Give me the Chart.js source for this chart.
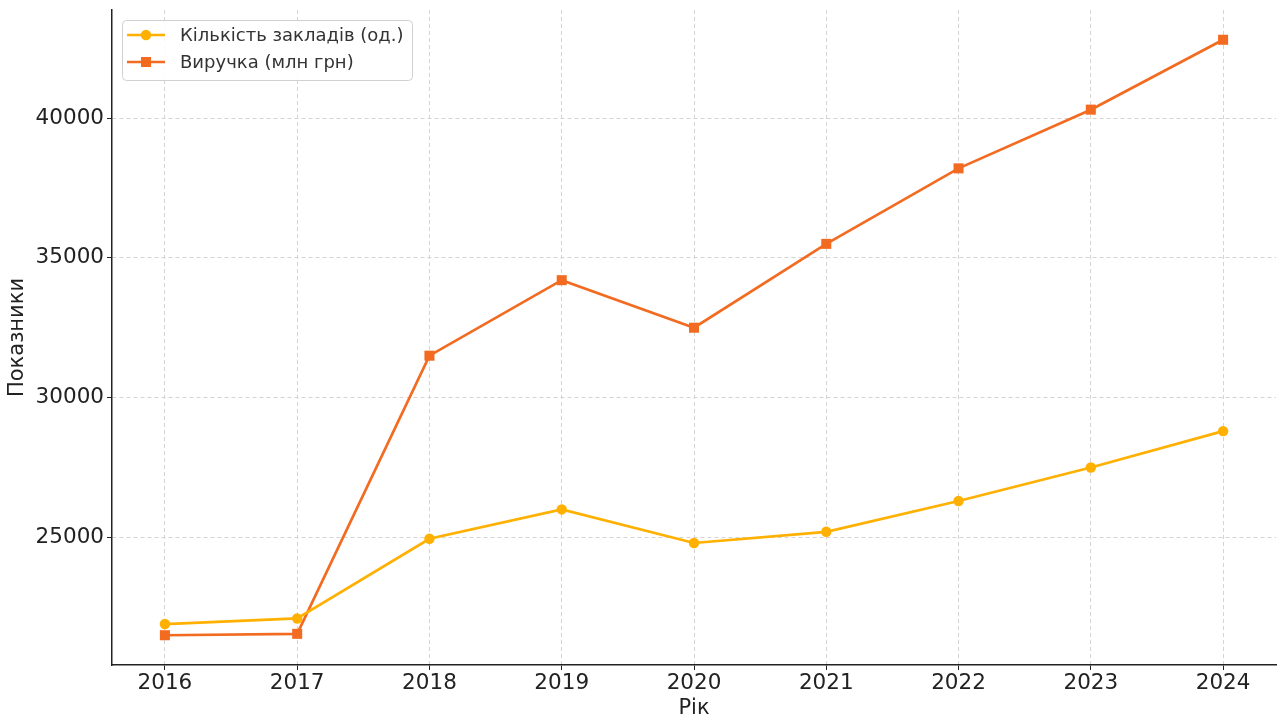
<!DOCTYPE html>
<html>
<head>
<meta charset="utf-8">
<script src="https://cdn.jsdelivr.net/npm/chart.js"></script>
<style>
  html, body { margin: 0; padding: 0; background: #fff; }
  #wrap { width: 1284px; height: 718px; position: relative; }
</style>
</head>
<body>
<div id="wrap"><canvas id="grafik" width="1284" height="718"></canvas></div>
<script>
// дані з графіка
const roky = [2016, 2017, 2018, 2019, 2020, 2021, 2022, 2023, 2024];
const zaklady = [21900, 22100, 24950, 26000, 24800, 25200, 26300, 27500, 28800];
const vyruchka = [21500, 21550, 31500, 34200, 32500, 35500, 38200, 40300, 42800];
const yTicks = [25000, 30000, 35000, 40000];
const nazvy = ['Кількість закладів (од.)', 'Виручка (млн грн)'];

const FONT = "'DejaVu Sans', sans-serif";
const zhovtyi = '#FFB000';
const pomaranch = '#F26B21';

// легенда всередині області графіка (як у matplotlib)
const legendaPlugin = {
  id: 'legendaVseredyni',
  afterDraw(chart) {
    const ctx = chart.ctx;
    const x0 = 122, y0 = 20, w = 290, h = 60;
    ctx.save();
    ctx.fillStyle = 'rgba(255,255,255,0.85)';
    ctx.strokeStyle = '#d0d0d0';
    ctx.lineWidth = 1;
    ctx.beginPath();
    ctx.roundRect(x0 + 0.5, y0 + 0.5, w, h, 4);
    ctx.fill();
    ctx.stroke();
    chart.data.datasets.forEach((ds, i) => {
      const cy = y0 + 15 + i * 27;
      ctx.strokeStyle = ds.borderColor;
      ctx.lineWidth = 2.5;
      ctx.beginPath();
      ctx.moveTo(127, cy);
      ctx.lineTo(165, cy);
      ctx.stroke();
      ctx.fillStyle = ds.backgroundColor;
      if (ds.pointStyle === 'rect') {
        ctx.fillRect(141, cy - 5, 10, 10);
      } else {
        ctx.beginPath();
        ctx.arc(146, cy, 5.2, 0, Math.PI * 2);
        ctx.fill();
      }
      ctx.fillStyle = '#333';
      ctx.font = '18px ' + FONT;
      ctx.textBaseline = 'middle';
      ctx.fillText(ds.label, 180, cy + 1);
    });
    ctx.restore();
  }
};

new Chart(document.getElementById('grafik').getContext('2d'), {
  type: 'line',
  data: {
    datasets: [
      {
        label: nazvy[0],
        data: roky.map((r, i) => ({ x: r, y: zaklady[i] })),
        borderColor: zhovtyi,
        backgroundColor: zhovtyi,
        borderWidth: 2.7,
        pointStyle: 'circle',
        pointRadius: 5.2,
        pointBorderWidth: 0,
        tension: 0
      },
      {
        label: nazvy[1],
        data: roky.map((r, i) => ({ x: r, y: vyruchka[i] })),
        borderColor: pomaranch,
        backgroundColor: pomaranch,
        borderWidth: 2.7,
        pointStyle: 'rect',
        pointRadius: 7.1,
        pointBorderWidth: 0,
        tension: 0
      }
    ]
  },
  options: {
    responsive: false,
    animation: false,
    layout: { padding: { top: 10, right: 8, left: 0, bottom: 0 } },
    plugins: {
      legend: { display: false },
      tooltip: { enabled: false }
    },
    scales: {
      x: {
        type: 'linear',
        min: 2015.6,
        max: 2024.4,
        afterBuildTicks(axis) { axis.ticks = roky.map(v => ({ value: v })); },
        afterFit(axis) { axis.height = 53; },
        border: { display: true, color: '#222', width: 1.5, dash: [4, 3] },
        grid: { color: '#d4d4d4', tickColor: '#222', tickLength: 5, drawTicks: true, tickBorderDash: [] },
        ticks: { color: '#222', font: { family: FONT, size: 21.5 }, padding: 1, callback: v => String(v) },
        title: { display: true, text: 'Рік', color: '#222', font: { family: FONT, size: 21 }, padding: { top: 0, bottom: -3 } }
      },
      y: {
        min: 20435,
        max: 43865,
        afterBuildTicks(axis) { axis.ticks = yTicks.map(v => ({ value: v })); },
        afterFit(axis) {
          axis.width = 112;
          axis.paddingTop = 0;
          axis.paddingBottom = 0;
        },
        border: { display: true, color: '#222', width: 1.5, dash: [4, 3] },
        grid: { color: '#d4d4d4', tickColor: '#222', tickLength: 5, drawTicks: true, tickBorderDash: [] },
        ticks: { color: '#222', font: { family: FONT, size: 21.5 }, padding: 3, callback: v => String(v) },
        title: { display: true, text: 'Показники', color: '#222', font: { family: FONT, size: 21 }, padding: { top: 5, bottom: 6 } }
      }
    }
  },
  plugins: [legendaPlugin]
});
</script>
</body>
</html>
